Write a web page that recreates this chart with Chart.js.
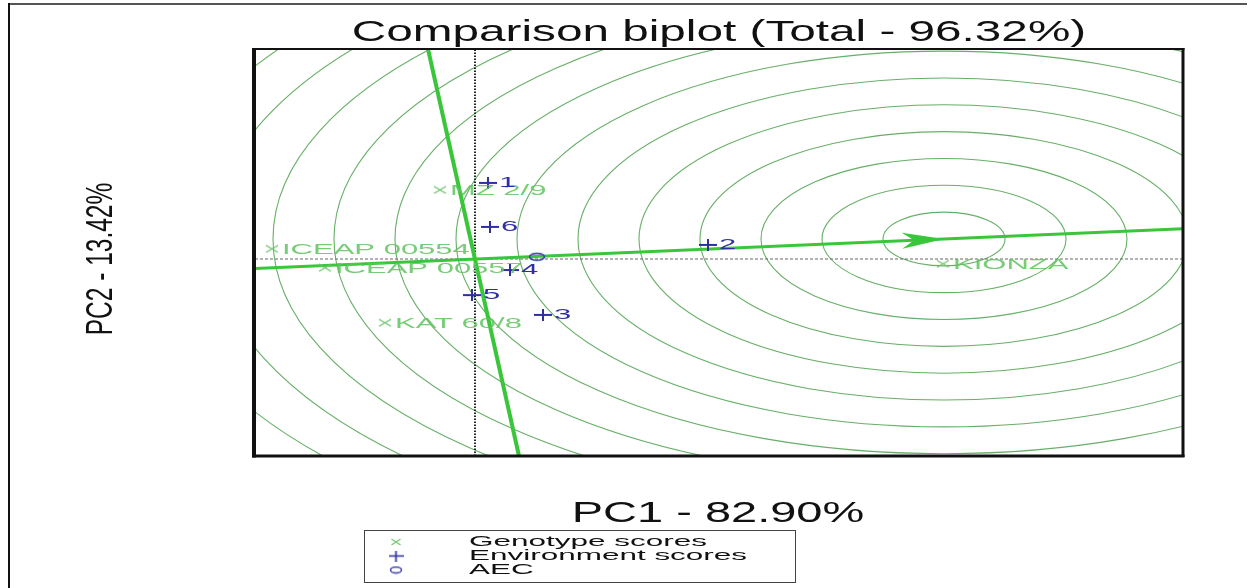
<!DOCTYPE html>
<html><head><meta charset="utf-8">
<script src="https://cdn.jsdelivr.net/npm/chart.js@4.4.1/dist/chart.umd.min.js"></script>
<style>html,body{margin:0;padding:0;background:#fff;overflow:hidden}canvas{display:block}</style>
</head><body>
<canvas id="c" width="1249" height="588"></canvas>
<script>
// ---- data ----
const genotypeNames = ['MZ 2/9', 'ICEAP 00554', 'ICEAP 00557', 'KAT 60/8', 'KIONZA'];
const genotypePC1 = [-0.35, -2.03, -1.50, -0.90, 4.68];
const genotypePC2 = [1.57, 0.23, -0.20, -1.45, -0.11];
const environmentNames = ['1', '2', '3', '4', '5', '6'];
const environmentPC1 = [0.13, 2.33, 0.68, 0.35, -0.03, 0.15];
const environmentPC2 = [1.73, 0.32, -1.27, -0.25, -0.82, 0.73];
const aecPoint = [0.62, 0.05];
const idealPoint = [4.69, 0.455];
const ringRadii = [0.61, 1.22, 1.83, 2.44, 3.05, 3.66, 4.27, 4.88, 5.49, 6.10, 6.71, 7.32, 7.93, 8.54, 9.15];
const aecAbscissaPC1 = [-2.2, 7.08];
const aecAbscissaPC2 = [-0.214, 0.69];
const aecOrdinatePC1 = [-0.47, 0.44];
const aecOrdinatePC2 = [4.773, -4.477];
const xRange = [-2.2, 7.08];
const yRange = [-4.477, 4.773];
const titleText = 'Comparison biplot (Total - 96.32%)';
const xTitle = 'PC1 - 82.90%';
const yTitle = 'PC2 - 13.42%';
const legendLabels = ['Genotype scores', 'Environment scores', 'AEC'];

// ---- styles ----
const FONT = '"Liberation Sans", Arial, sans-serif';
const GREEN_LINE = 'rgb(58,198,58)';
const GREEN_RING = 'rgba(65,155,65,0.8)';
const GREEN_TEXT = 'rgba(95,195,95,0.85)';
const BLUE = '#2f2fa0';

function makeMarker(w, h, draw) {
  const c = document.createElement('canvas'); c.width = w; c.height = h;
  draw(c.getContext('2d'), w, h); return c;
}
const crossMark = (w, h, color, lw) => makeMarker(w, h, (g) => {
  g.strokeStyle = color; g.lineWidth = lw; g.beginPath();
  g.moveTo(1, 1); g.lineTo(w - 1, h - 1); g.moveTo(1, h - 1); g.lineTo(w - 1, 1); g.stroke();
});
const plusMark = (w, h, color, lw) => makeMarker(w, h, (g) => {
  g.strokeStyle = color; g.lineWidth = lw; g.beginPath();
  g.moveTo(0, h / 2); g.lineTo(w, h / 2); g.moveTo(w / 2, 0); g.lineTo(w / 2, h); g.stroke();
});
const ringMark = (w, h, color, lw) => makeMarker(w, h, (g) => {
  g.strokeStyle = color; g.lineWidth = lw; g.beginPath();
  g.ellipse(w / 2, h / 2, w / 2 - lw, h / 2 - lw, 0, 0, Math.PI * 2); g.stroke();
});
const gMark = crossMark(14, 9, 'rgb(110,195,110)', 1.3);
const eMark = plusMark(18, 12, BLUE, 2);
const aMark = ringMark(18, 10, '#4040b0', 1.6);
const gMarkL = crossMark(11, 8, 'rgb(110,195,110)', 1.2);
const eMarkL = plusMark(15, 11, BLUE, 1.7);
const aMarkL = ringMark(14, 9, '#4040b0', 1.5);

function stretchText(ctx, text, x, y, size, sx, color, align, baseline) {
  ctx.save(); ctx.translate(x, y); ctx.scale(sx, 1);
  ctx.font = size + 'px ' + FONT; ctx.fillStyle = color;
  ctx.textAlign = align || 'left'; ctx.textBaseline = baseline || 'middle';
  ctx.fillText(text, 0, 0); ctx.restore();
}

const biplotPlugin = {
  id: 'biplot',
  beforeDraw(chart) {
    const ctx = chart.ctx;
    ctx.save(); ctx.fillStyle = '#fff'; ctx.fillRect(0, 0, chart.width, chart.height); ctx.restore();
  },
  beforeDatasetsDraw(chart) {
    const { ctx, chartArea: a, scales: { x, y } } = chart;
    const cx = x.getPixelForValue(idealPoint[0]), cy = y.getPixelForValue(idealPoint[1]);
    ctx.save();
    ctx.beginPath(); ctx.rect(a.left, a.top, a.right - a.left, a.bottom - a.top); ctx.clip();
    ctx.strokeStyle = GREEN_RING; ctx.lineWidth = 1.1;
    ringRadii.forEach(r => {
      const rx = Math.abs(x.getPixelForValue(idealPoint[0] + r) - cx);
      const ry = Math.abs(y.getPixelForValue(idealPoint[1] + r) - cy);
      ctx.beginPath(); ctx.ellipse(cx, cy, rx, ry, 0, 0, Math.PI * 2); ctx.stroke();
    });
    ctx.restore();
  },
  afterDatasetsDraw(chart) {
    const { ctx, scales: { x, y } } = chart;
    const x1 = x.getPixelForValue(aecAbscissaPC1[0]), y1 = y.getPixelForValue(aecAbscissaPC2[0]);
    const x2 = x.getPixelForValue(aecAbscissaPC1[1]), y2 = y.getPixelForValue(aecAbscissaPC2[1]);
    const ang = Math.atan2(y2 - y1, x2 - x1);
    const tx = x.getPixelForValue(idealPoint[0]);
    const ty = y1 + (tx - x1) * (y2 - y1) / (x2 - x1);
    ctx.save(); ctx.translate(tx, ty); ctx.rotate(ang);
    ctx.fillStyle = GREEN_LINE;
    ctx.beginPath(); ctx.moveTo(0, 0); ctx.lineTo(-42, -8); ctx.lineTo(-30, 0); ctx.lineTo(-42, 8); ctx.closePath(); ctx.fill();
    ctx.restore();
    const gm = chart.getDatasetMeta(0).data;
    gm.forEach((p, i) => stretchText(ctx, genotypeNames[i], p.x + 10, p.y + 1, 15.5, 2.0, GREEN_TEXT));
    const em = chart.getDatasetMeta(1).data;
    em.forEach((p, i) => stretchText(ctx, environmentNames[i], p.x + 11, p.y, 15.5, 2.0, BLUE));
  },
  afterDraw(chart) {
    const { ctx, chartArea: a } = chart;
    ctx.save();
    ctx.strokeStyle = '#111';
    ctx.lineWidth = 4; ctx.beginPath(); ctx.moveTo(a.left - 1, a.top - 1); ctx.lineTo(a.left - 1, a.bottom + 1.5); ctx.stroke();
    ctx.lineWidth = 2; ctx.beginPath(); ctx.moveTo(a.left - 3, a.top); ctx.lineTo(a.right + 1.5, a.top); ctx.stroke();
    ctx.lineWidth = 3; ctx.beginPath(); ctx.moveTo(a.right, a.top - 1); ctx.lineTo(a.right, a.bottom + 1); ctx.stroke();
    ctx.beginPath(); ctx.moveTo(a.left - 3, a.bottom); ctx.lineTo(a.right + 1.5, a.bottom); ctx.stroke();
    ctx.strokeStyle = '#555'; ctx.lineWidth = 2;
    ctx.beginPath(); ctx.moveTo(8, 4); ctx.lineTo(1247, 4); ctx.stroke();
    ctx.strokeStyle = '#111';
    ctx.beginPath(); ctx.moveTo(9, 3); ctx.lineTo(9, 588); ctx.stroke();
    ctx.restore();

    stretchText(ctx, titleText, 719, 41, 30, 1.59, '#111', 'center', 'alphabetic');
    stretchText(ctx, xTitle, 718, 522, 29, 1.62, '#111', 'center', 'alphabetic');
    ctx.save(); ctx.translate(112, 259); ctx.rotate(-Math.PI / 2); ctx.scale(1, 1.5);
    ctx.font = '24.5px ' + FONT; ctx.fillStyle = '#111'; ctx.textAlign = 'center'; ctx.textBaseline = 'alphabetic';
    ctx.fillText(yTitle, 0, 0); ctx.restore();

    ctx.save(); ctx.strokeStyle = '#444'; ctx.lineWidth = 1;
    ctx.strokeRect(364.5, 530.5, 431, 52); ctx.restore();
    const marks = [gMarkL, eMarkL, aMarkL];
    const rows = [542, 556, 570];
    marks.forEach((m, i) => ctx.drawImage(m, 396 - m.width / 2, rows[i] - m.height / 2));
    legendLabels.forEach((t, i) => stretchText(ctx, t, 469, rows[i], 15.5, 2.03, '#111', 'left', 'middle'));
  }
};

const chart = new Chart(document.getElementById('c'), {
  type: 'scatter',
  data: {
    datasets: [
      { label: legendLabels[0], data: genotypePC1.map((v, i) => ({ x: v, y: genotypePC2[i] })), pointStyle: gMark, pointRadius: 5, order: 1 },
      { label: legendLabels[1], data: environmentPC1.map((v, i) => ({ x: v, y: environmentPC2[i] })), pointStyle: eMark, pointRadius: 5, order: 0 },
      { label: legendLabels[2], data: [{ x: aecPoint[0], y: aecPoint[1] }], pointStyle: aMark, pointRadius: 5, order: 0 },
      { type: 'line', label: 'AEC abscissa', data: aecAbscissaPC1.map((v, i) => ({ x: v, y: aecAbscissaPC2[i] })), borderColor: GREEN_LINE, borderWidth: 3, pointRadius: 0, showLine: true, order: 4 },
      { type: 'line', label: 'AEC ordinate', data: aecOrdinatePC1.map((v, i) => ({ x: v, y: aecOrdinatePC2[i] })), borderColor: GREEN_LINE, borderWidth: 4, pointRadius: 0, showLine: true, order: 3 },
      { type: 'line', label: 'PC1 = 0', data: [{ x: 0, y: yRange[0] }, { x: 0, y: yRange[1] }], borderColor: '#222', borderWidth: 2, borderDash: [1.5, 1.5], pointRadius: 0, showLine: true, order: 6 },
      { type: 'line', label: 'PC2 = 0', data: [{ x: xRange[0], y: 0 }, { x: xRange[1], y: 0 }], borderColor: '#666', borderWidth: 1, borderDash: [3, 2], pointRadius: 0, showLine: true, order: 6 }
    ]
  },
  options: {
    responsive: false, animation: false, events: [], devicePixelRatio: 1,
    layout: { padding: { left: 255, top: 49, right: 66, bottom: 132 } },
    scales: {
      x: { type: 'linear', min: xRange[0], max: xRange[1], display: false },
      y: { type: 'linear', min: yRange[0], max: yRange[1], display: false }
    },
    plugins: { legend: { display: false }, tooltip: { enabled: false }, title: { display: false } }
  },
  plugins: [biplotPlugin]
});
</script>
</body></html>
